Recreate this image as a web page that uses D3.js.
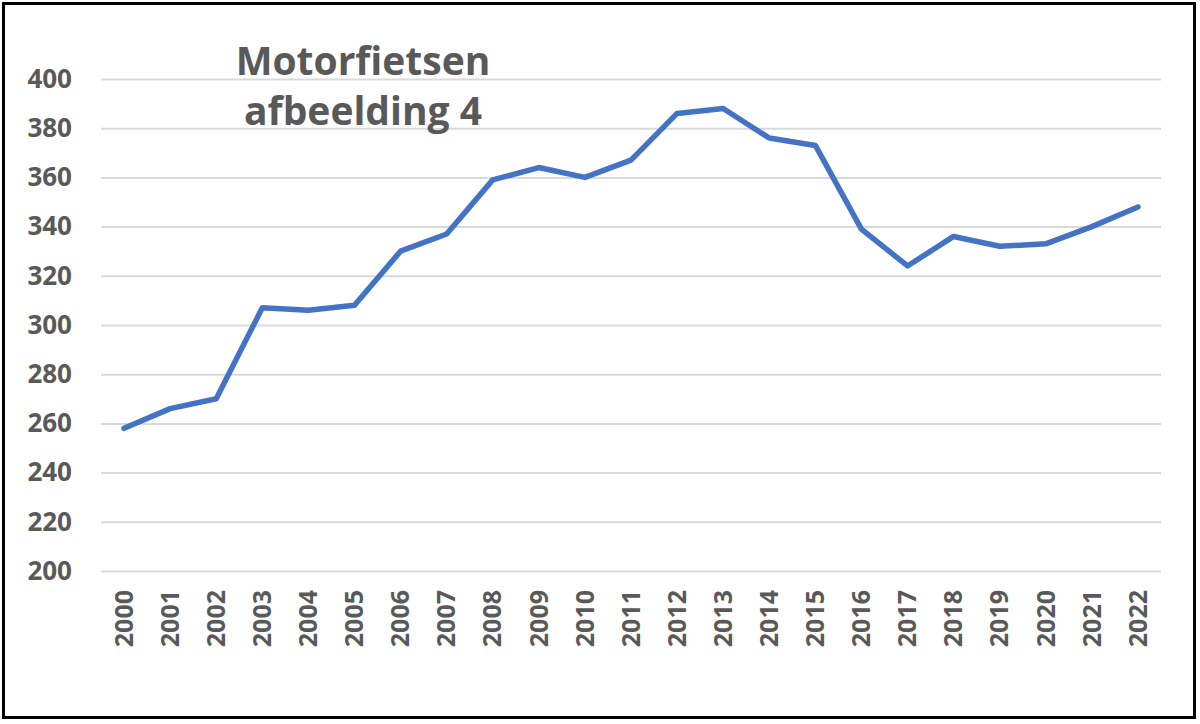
<!DOCTYPE html>
<html>
<head>
<meta charset="utf-8">
<script src="https://cdn.jsdelivr.net/npm/d3@7"></script>
<style>
  body { margin: 0; background: #fff; }
  text { font-family: "Open Sans", "Liberation Sans", sans-serif; font-weight: bold; fill: #595959; }
</style>
</head>
<body>
<script>
// data
const years = ["2000","2001","2002","2003","2004","2005","2006","2007","2008","2009","2010","2011",
  "2012","2013","2014","2015","2016","2017","2018","2019","2020","2021","2022"];
const values = [258, 266, 270, 307, 306, 308, 330, 337, 359, 364, 360, 367,
  386, 388, 376, 373, 339, 324, 336, 332, 333, 340, 348];
const yTicks = [200, 220, 240, 260, 280, 300, 320, 340, 360, 380, 400];
const titleLines = ["Motorfietsen", "afbeelding 4"];

const width = 1200, height = 724;
const margin = { left: 101, right: 39, top: 79, bottom: 153 };

const svg = d3.select("body").append("svg").attr("width", width).attr("height", height);

// outer frame
svg.append("rect")
  .attr("x", 3.5).attr("y", 3.5)
  .attr("width", 1191).attr("height", 714)
  .attr("fill", "#fff").attr("stroke", "#000").attr("stroke-width", 3);

const x = d3.scaleBand().domain(years).range([margin.left, width - margin.right]);
const y = d3.scaleLinear().domain([200, 400]).range([height - margin.bottom, margin.top]);

// gridlines
svg.append("g")
  .attr("transform", "translate(" + margin.left + ",0)")
  .call(d3.axisLeft(y).tickValues(yTicks).tickSize(-(width - margin.left - margin.right)).tickFormat(""))
  .call(g => g.select(".domain").remove())
  .call(g => g.selectAll("line").attr("stroke", "#d9d9d9").attr("stroke-width", 2));

// y labels
svg.append("g")
  .attr("transform", "translate(" + margin.left + ",0)")
  .call(d3.axisLeft(y).tickValues(yTicks).tickSize(0).tickPadding(29))
  .call(g => g.select(".domain").remove())
  .call(g => g.selectAll("text").style("font-size", "26px").attr("text-anchor", "end"));

// x labels
svg.append("g")
  .attr("transform", "translate(0," + (height - margin.bottom) + ")")
  .call(d3.axisBottom(x).tickSize(0))
  .call(g => g.select(".domain").remove())
  .call(g => g.selectAll("text")
    .style("font-size", "25px")
    .attr("text-anchor", "end")
    .attr("transform", "rotate(-90)")
    .attr("x", -19).attr("y", 0).attr("dy", "0.35em"));

// line
const line = d3.line()
  .x((d, i) => x(years[i]) + x.bandwidth() / 2)
  .y(d => y(d));

svg.append("path")
  .datum(values)
  .attr("d", line)
  .attr("fill", "none")
  .attr("stroke", "#4472c4")
  .attr("stroke-width", 5.5)
  .attr("stroke-linejoin", "round")
  .attr("stroke-linecap", "round");

// title
svg.append("text")
  .attr("x", 363).attr("y", 75)
  .attr("text-anchor", "middle")
  .style("font-size", "39px")
  .selectAll("tspan")
  .data(titleLines)
  .join("tspan")
  .attr("x", 363)
  .attr("dy", (d, i) => i === 0 ? 0 : 50)
  .text(d => d);
</script>
</body>
</html>
